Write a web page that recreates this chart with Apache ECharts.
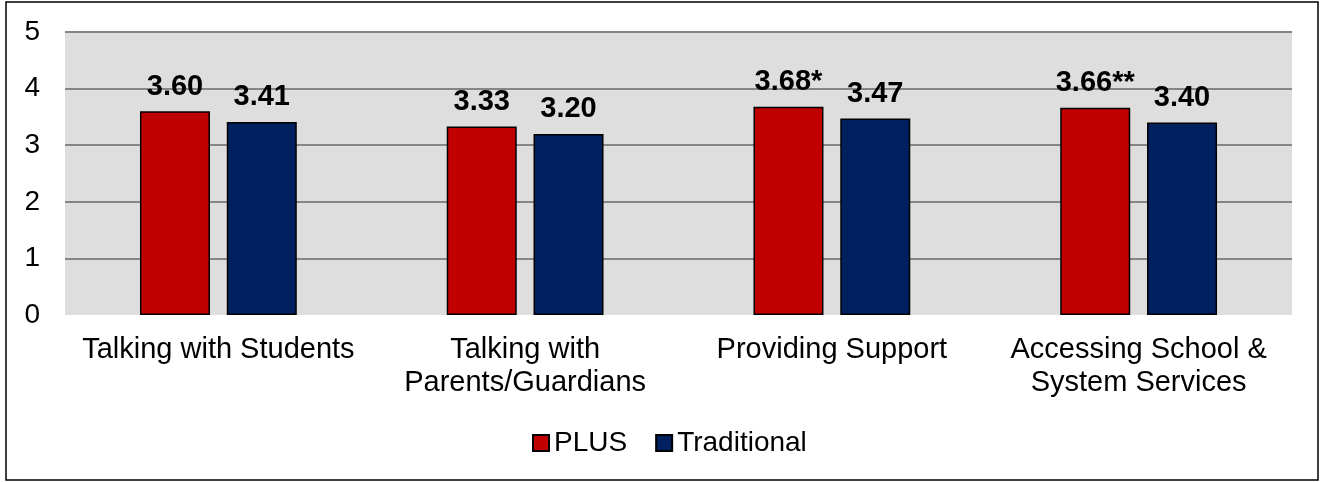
<!DOCTYPE html>
<html>
<head>
<meta charset="utf-8">
<title>PLUS vs Traditional</title>
<script src="https://cdn.jsdelivr.net/npm/echarts@6/dist/echarts.min.js"></script>
<style>
  html, body { margin: 0; padding: 0; background: #ffffff; }
  #chart { width: 1321px; height: 482px; }
</style>
</head>
<body>
<div id="chart"></div>
<script>
// Categories (line breaks as shown under the axis)
const categories = [
  'Talking with Students',
  'Talking with\nParents/Guardians',
  'Providing Support',
  'Accessing School &\nSystem Services'
];
// Mean ratings per group
const plusValues = [3.60, 3.33, 3.68, 3.66];
const traditionalValues = [3.41, 3.20, 3.47, 3.40];
// Significance marks appended to the PLUS labels
const plusMarks = ['', '', '*', '**'];
const traditionalMarks = ['', '', '', ''];
// Value axis ticks
const yTicks = [0, 1, 2, 3, 4, 5];

const FONT = '"Liberation Sans", Arial, sans-serif';

const chart = echarts.init(document.getElementById('chart'), null, { renderer: 'canvas' });

function labelFor(marks) {
  return {
    show: true,
    position: 'top',
    distance: 10,
    color: '#000000',
    fontFamily: FONT,
    fontWeight: 'bold',
    fontSize: 29,
    formatter: p => p.value.toFixed(2) + marks[p.dataIndex]
  };
}

// gridline colours per tick: no line along the baseline
const gridColors = yTicks.map(v => (v === 0 ? 'rgba(0,0,0,0)' : '#868686'));

chart.setOption({
  animation: false,
  backgroundColor: '#ffffff',
  textStyle: { fontFamily: FONT },
  graphic: [{
    type: 'rect',
    shape: { x: 6, y: 2, width: 1312, height: 478 },
    style: { fill: 'none', stroke: '#000000', lineWidth: 1.5 },
    silent: true,
    z: 100
  }],
  grid: {
    left: 65, right: 29, top: 32, bottom: 167,
    show: true,
    backgroundColor: '#dedede',
    borderWidth: 0
  },
  legend: {
    left: 527,
    top: 424,
    icon: 'rect',
    itemWidth: 16,
    itemHeight: 16,
    itemGap: 28,
    textStyle: { fontFamily: FONT, fontSize: 28, color: '#000000' },
    data: ['PLUS', 'Traditional']
  },
  xAxis: {
    type: 'category',
    data: categories,
    axisLine: { show: false },
    axisTick: { show: false },
    axisLabel: {
      color: '#000000',
      fontFamily: FONT,
      fontSize: 29,
      lineHeight: 33,
      margin: 18,
      interval: 0
    }
  },
  yAxis: {
    type: 'value',
    min: yTicks[0],
    max: yTicks[yTicks.length - 1],
    interval: 1,
    axisLine: { show: false },
    axisTick: { show: false },
    splitLine: { show: true, lineStyle: { color: gridColors, width: 2 } },
    axisLabel: {
      color: '#000000',
      fontFamily: FONT,
      fontSize: 28,
      margin: 25,
      verticalAlign: 'middle',
      padding: [0, 0, 4, 0],
      formatter: v => (yTicks.includes(v) ? String(v) : '')
    }
  },
  series: [
    {
      name: 'PLUS',
      type: 'bar',
      data: plusValues,
      barWidth: 70,
      barGap: '24%',
      itemStyle: { color: '#c00000', borderColor: '#000000', borderWidth: 1.5 },
      label: labelFor(plusMarks)
    },
    {
      name: 'Traditional',
      type: 'bar',
      data: traditionalValues,
      barWidth: 70,
      barGap: '24%',
      itemStyle: { color: '#002060', borderColor: '#000000', borderWidth: 1.5 },
      label: labelFor(traditionalMarks)
    }
  ]
});
</script>
</body>
</html>
